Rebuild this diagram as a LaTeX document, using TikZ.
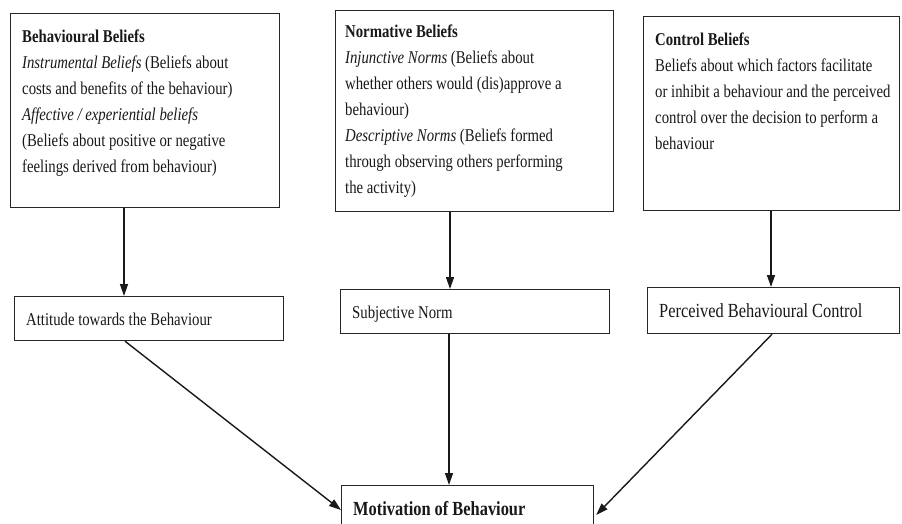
\documentclass[tikz,border=0pt]{standalone}
\usepackage{fontspec}
\setmainfont{Liberation Serif}[FakeStretch=0.82]
\usetikzlibrary{arrows.meta}
\newcommand{\toplines}[1]{\parbox[t]{250pt}{\raggedright #1}}
\begin{document}
\begin{tikzpicture}[x=1pt,y=-1pt,
  box/.style={draw=black!85,line width=1.2pt,inner sep=0pt,anchor=north west},
  txt/.style={anchor=base west,inner sep=0pt,text=black!90,font=\fontsize{18}{26}\selectfont},
  conn/.style={draw=black!90,line width=1.4pt,-{Triangle[length=12pt,width=8pt]}}]
\clip (0,0) rectangle (902,523);
\fill[white] (0,0) rectangle (902,523);
% upper boxes
\node[box,minimum width=269pt,minimum height=194pt] (b1) at (10,13) {};
\node[box,minimum width=278pt,minimum height=201pt] (b2) at (335,10) {};
\node[box,minimum width=256pt,minimum height=194pt] (b3) at (643,16) {};
\node[txt] (t1) at (22,42) {\toplines{\textbf{Behavioural Beliefs}\\
\textit{Instrumental Beliefs} (Beliefs about\\
costs and benefits of the behaviour)\\
\textit{Affective / experiential beliefs}\\
(Beliefs about positive or negative\\
feelings derived from behaviour)}};
\node[txt] (t2) at (345,37) {\toplines{\textbf{Normative Beliefs}\\
\textit{Injunctive Norms} (Beliefs about\\
whether others would (dis)approve a\\
behaviour)\\
\textit{Descriptive Norms} (Beliefs formed\\
through observing others performing\\
the activity)}};
\node[txt] (t3) at (655,45) {\toplines{\textbf{Control Beliefs}\\
Beliefs about which factors facilitate\\
or inhibit a behaviour and the perceived\\
control over the decision to perform a\\
behaviour}};
% middle boxes
\node[box,minimum width=269pt,minimum height=44pt] (a1) at (14,296) {};
\node[box,minimum width=269pt,minimum height=44pt] (a2) at (340,289) {};
\node[box,minimum width=252pt,minimum height=46pt] (a3) at (647,287) {};
\node[txt] (s1) at (26,325) {Attitude towards the Behaviour};
\node[txt] (s2) at (352,318) {Subjective Norm};
\node[txt,font=\fontsize{20}{26}\selectfont] (s3) at (659,317) {Perceived Behavioural Control};
% bottom box
\node[box,minimum width=252pt,minimum height=60pt] (m) at (341,485) {};
\node[txt,font=\fontsize{20}{26}\selectfont\bfseries] (mt) at (353,515) {Motivation of Behaviour};
% connectors
\draw[conn] ([xshift=114pt]b1.south west) -- ([xshift=110pt]a1.north west);
\draw[conn] ([xshift=115pt]b2.south west) -- ([xshift=110pt]a2.north west);
\draw[conn] ([xshift=128pt]b3.south west) -- ([xshift=124pt]a3.north west);
\draw[conn] ([xshift=111pt]a1.south west) -- ([yshift=-25pt]m.north west);
\draw[conn] ([xshift=109pt]a2.south west) -- ([xshift=108pt]m.north west);
\draw[conn] ([xshift=125pt]a3.south west) -- ([xshift=2pt,yshift=-30pt]m.north east);
\end{tikzpicture}
\end{document}
